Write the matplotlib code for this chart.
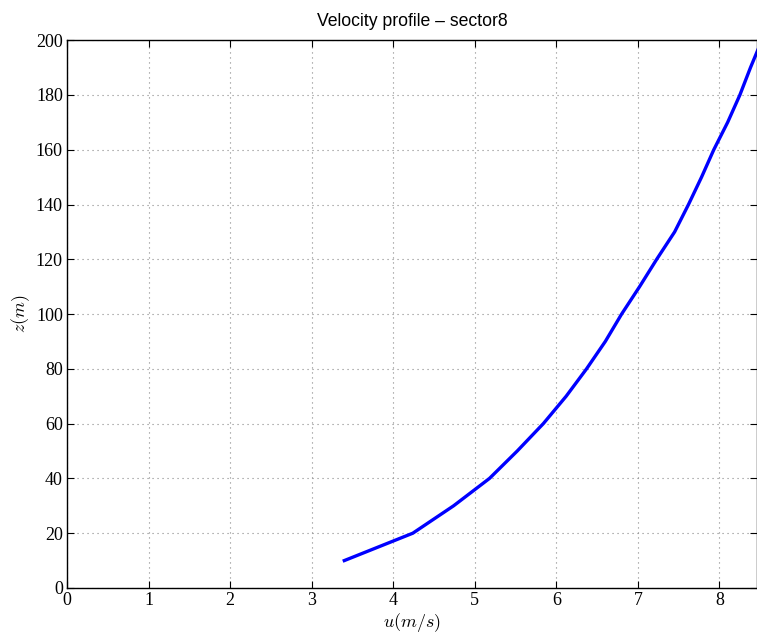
import matplotlib
matplotlib.use("Agg")
import matplotlib.pyplot as plt

z_m = [10, 20, 30, 40, 50, 60, 70, 80, 90, 100, 110, 120, 130, 140, 150, 160, 170, 180, 190, 200]
u_ms = [3.40, 4.24, 4.74, 5.18, 5.52, 5.84, 6.12, 6.37, 6.60, 6.80, 7.02, 7.23, 7.45, 7.62, 7.78, 7.93, 8.10, 8.25, 8.38, 8.52]
x_ticks = [0, 1, 2, 3, 4, 5, 6, 7, 8]
y_ticks = [0, 20, 40, 60, 80, 100, 120, 140, 160, 180, 200]

plt.rcParams['mathtext.fontset'] = 'cm'

fig = plt.figure(figsize=(7.57, 6.34), dpi=100)
ax = fig.add_axes([0.0885, 0.0726, 0.9115, 0.864])
ax.plot(u_ms, z_m, color='#0000ff', linewidth=2.4)
ax.set_xlim(0, 8.46)
ax.set_ylim(0, 200)
ax.set_xticks(x_ticks)
ax.set_yticks(y_ticks)
ax.set_xticklabels([str(v) for v in x_ticks], family='Liberation Serif', fontsize=13)
ax.set_yticklabels([str(v) for v in y_ticks], family='Liberation Serif', fontsize=13)
ax.tick_params(direction='in', top=True, right=True, length=5, width=0.8, pad=3)
ax.grid(True, linestyle=(0, (1, 3.5)), color='#888888', linewidth=0.8)
for s in ax.spines.values():
    s.set_linewidth(1.0)
ax.set_xlabel(r'$u(m/s)$', fontsize=13, labelpad=1)
ax.set_ylabel(r'$z(m)$', fontsize=13, labelpad=3)
ax.set_title('Velocity profile \u2013 sector8', family='Liberation Sans', fontsize=12.7, pad=10)
fig.savefig('out.png', dpi=100)
